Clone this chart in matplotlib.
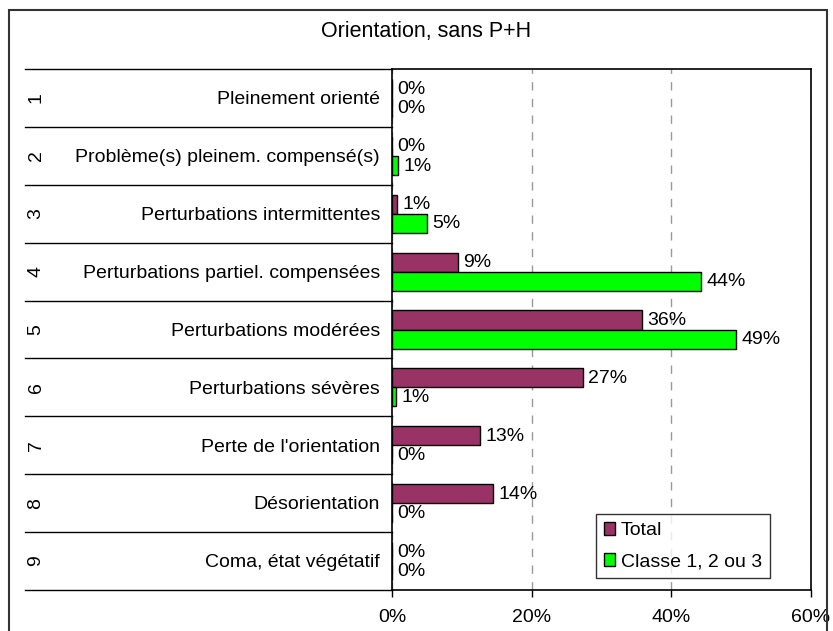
import matplotlib
matplotlib.use('Agg')
import matplotlib.pyplot as plt
from matplotlib.patches import Rectangle, Patch

plt.rcParams['font.family'] = ['Liberation Sans', 'DejaVu Sans']

title = "Orientation, sans P+H"
codes = ['1', '2', '3', '4', '5', '6', '7', '8', '9']
categories = [
    "Pleinement orienté",
    "Problème(s) pleinem. compensé(s)",
    "Perturbations intermittentes",
    "Perturbations partiel. compensées",
    "Perturbations modérées",
    "Perturbations sévères",
    "Perte de l'orientation",
    "Désorientation",
    "Coma, état végétatif",
]
total = [0, 0, 0.7, 9.4, 35.8, 27.3, 12.6, 14.4, 0]
classe = [0, 0.9, 5.0, 44.2, 49.2, 0.6, 0, 0, 0]
series_names = ['Total', 'Classe 1, 2 ou 3']
series_colors = ['#993366', '#00FF00']
xticks = [0, 20, 40, 60]
xtick_labels = ['0%', '20%', '40%', '60%']

W, H = 833, 631
FS = 14
fig = plt.figure(figsize=(W / 100, H / 100), dpi=100)


def px(x0, y0, x1, y1):
    return [x0 / W, 1 - y1 / H, (x1 - x0) / W, (y1 - y0) / H]


# outer chart frame
fig.add_artist(Rectangle((9 / W, -0.05), (827 - 9) / W, 1 - 10 / H + 0.05,
                         transform=fig.transFigure, fill=False,
                         edgecolor='#333333', lw=1.5))
fig.text(426 / W, 1 - 31 / H, title, ha='center', va='center', fontsize=15.5)

ax = fig.add_axes(px(392, 69, 811, 590))
n = len(categories)
ys = list(range(n))
h = 0.33
off = 0.165
series = [total, classe]
for k, (vals, name, col) in enumerate(zip(series, series_names, series_colors)):
    yy = [y - off if k == 0 else y + off for y in ys]
    ax.barh(yy, vals, height=h, color=col, edgecolor='black', lw=1, label=name, zorder=3)
    for y, v in zip(yy, vals):
        ax.annotate(f"{round(v)}%", xy=(v, y), xytext=(4, -0.5),
                    textcoords='offset points', ha='left', va='center', fontsize=FS)

ax.set_xlim(xticks[0], xticks[-1])
ax.set_ylim(n - 0.5, -0.5)
ax.set_xticks(xticks)
ax.set_xticklabels(xtick_labels, fontsize=FS)
ax.tick_params(axis='x', direction='out', length=5, width=1, pad=9)
ax.set_yticks([])
ax.xaxis.grid(True, linestyle=(0, (6, 6)), color='#999999', lw=1, zorder=0)
for s in ax.spines.values():
    s.set_color('black')
    s.set_linewidth(1.2)

tr = ax.get_yaxis_transform()
x_left = (25 - 392) / 419
for b in [i - 0.5 for i in range(n + 1)]:
    ax.plot([x_left, 0], [b, b], transform=tr, clip_on=False, color='black', lw=1)
for y, cat, code in zip(ys, categories, codes):
    ax.annotate(cat, xy=(-12 / 419, y), xycoords=tr, xytext=(0, -1.3),
                textcoords='offset points', ha='right', va='center', fontsize=FS)
    ax.text((36 - 392) / 419, y, code, transform=tr, ha='center', va='center',
            rotation=90, fontsize=FS)

handles = [Patch(facecolor=c, edgecolor='black', lw=1) for c in series_colors]
leg = ax.legend(handles, series_names, loc='lower right', bbox_to_anchor=(0.902, 0.023),
                fontsize=FS, frameon=True, fancybox=False, handlelength=0.6,
                handleheight=0.6, handletextpad=0.3, labelspacing=0.72,
                borderpad=0.4, borderaxespad=0)
leg.get_frame().set_edgecolor('black')
leg.get_frame().set_linewidth(1)
leg.set_zorder(5)

fig.savefig('out.png', dpi=100)
